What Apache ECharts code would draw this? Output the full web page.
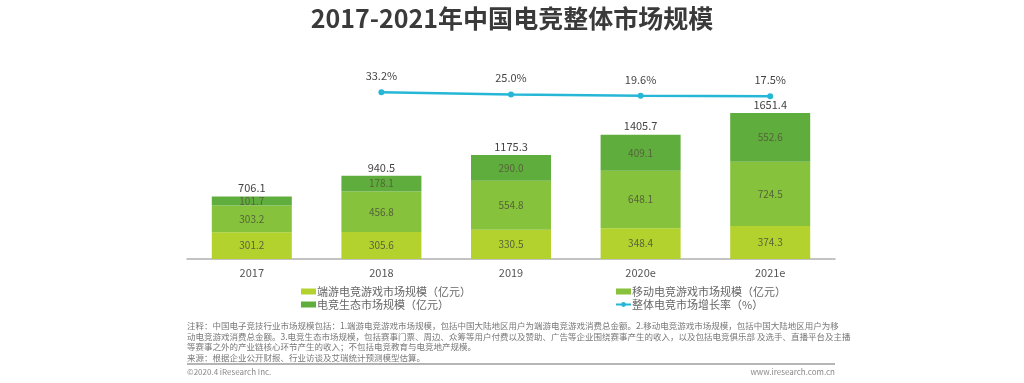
<!DOCTYPE html>
<html>
<head>
<meta charset="utf-8">
<script src="https://cdn.jsdelivr.net/npm/echarts@6/dist/echarts.min.js"></script>
<style>
html,body{margin:0;padding:0;background:#fff;}
#chart{width:1024px;height:383px;}
</style>
</head>
<body>
<div id="chart"></div>
<script>
const categories = ['2017', '2018', '2019', '2020e', '2021e'];
const pcGame = [301.2, 305.6, 330.5, 348.4, 374.3];
const mobileGame = [303.2, 456.8, 554.8, 648.1, 724.5];
const ecosystem = [101.7, 178.1, 290.0, 409.1, 552.6];
const totals = [706.1, 940.5, 1175.3, 1405.7, 1651.4];
const growth = [null, 33.2, 25.0, 19.6, 17.5];

const names = ['端游电竞游戏市场规模（亿元）', '移动电竞游戏市场规模（亿元）', '电竞生态市场规模（亿元）', '整体电竞市场增长率（%）'];
const colors = ['#b3d22d', '#86c23b', '#5fad3c', '#27b7d6'];
const FONT = '"Noto Sans CJK SC", "Noto Sans", sans-serif';

const footnote = [
  '注释：中国电子竞技行业市场规模包括：1.端游电竞游戏市场规模，包括中国大陆地区用户为端游电竞游戏消费总金额。2.移动电竞游戏市场规模，包括中国大陆地区用户为移',
  '动电竞游戏消费总金额。3.电竞生态市场规模，包括赛事门票、周边、众筹等用户付费以及赞助、广告等企业围绕赛事产生的收入，以及包括电竞俱乐部 及选手、直播平台及主播',
  '等赛事之外的产业链核心环节产生的收入；不包括电竞教育与电竞地产规模。',
  '来源：根据企业公开财报、行业访谈及艾瑞统计预测模型估算。'
].join('\n');

const chart = echarts.init(document.getElementById('chart'), null, {renderer: 'canvas'});
const segLabel = {
  show: true, position: 'inside', fontSize: 10, color: '#55633a', fontFamily: FONT,
  formatter: p => p.value.toFixed(1)
};
chart.setOption({
  animation: false,
  backgroundColor: '#fff',
  textStyle: {fontFamily: FONT},
  title: {
    text: '2017-2021年中国电竞整体市场规模',
    left: 'center', top: 1,
    textStyle: {fontSize: 25, fontWeight: 'bold', color: '#3a3a3a', fontFamily: FONT}
  },
  legend: [
    {
      orient: 'vertical', left: 296, top: 281, itemGap: 2, itemWidth: 15, itemHeight: 6,
      textStyle: {fontSize: 11, color: '#666', fontFamily: FONT, padding: [0, 0, 0, -4]},
      data: [{name: names[0], icon: 'rect'}, {name: names[2], icon: 'rect'}]
    },
    {
      orient: 'vertical', left: 610, top: 281, itemGap: 2, itemWidth: 15, itemHeight: 6,
      textStyle: {fontSize: 11, color: '#666', fontFamily: FONT, padding: [0, 0, 0, -4]},
      data: [{name: names[1], icon: 'rect'}, {name: names[3]}]
    }
  ],
  grid: {left: 187, right: 189, top: 60, bottom: 124},
  xAxis: {
    type: 'category', data: categories,
    axisLine: {lineStyle: {color: '#b0b0b0', width: 1.5}},
    axisTick: {show: false},
    axisLabel: {fontSize: 11, color: '#555', margin: 8, fontFamily: FONT}
  },
  yAxis: [
    {type: 'value', min: 0, max: 2250, show: false, splitLine: {show: false}},
    {type: 'value', min: -620, max: 160, show: false, splitLine: {show: false}}
  ],
  series: [
    {name: names[0], type: 'bar', stack: 'total', barWidth: 80, data: pcGame,
     itemStyle: {color: colors[0]}, label: segLabel},
    {name: names[1], type: 'bar', stack: 'total', barWidth: 80, data: mobileGame,
     itemStyle: {color: colors[1]}, label: segLabel},
    {name: names[2], type: 'bar', stack: 'total', barWidth: 80, data: ecosystem,
     itemStyle: {color: colors[2]}, label: segLabel},
    {name: 'total', type: 'bar', barWidth: 80, barGap: '-100%', data: totals,
     itemStyle: {color: 'rgba(0,0,0,0)'}, silent: true, z: 1,
     label: {show: true, position: 'top', distance: 3, fontSize: 11, color: '#444', fontFamily: FONT,
             formatter: p => p.value.toFixed(1)}},
    {name: names[3], type: 'line', yAxisIndex: 1, data: growth,
     itemStyle: {color: colors[3]}, lineStyle: {color: colors[3], width: 2.5},
     symbol: 'circle', symbolSize: 6, connectNulls: false,
     label: {show: true, position: 'top', distance: 8, fontSize: 11, color: '#444', fontFamily: FONT,
             formatter: p => p.value.toFixed(1) + '%'}}
  ],
  graphic: [
    {type: 'text', left: 187, top: 321,
     style: {text: footnote, fontSize: 8.5, lineHeight: 10.5, fill: '#777', fontFamily: FONT}},
    {type: 'line', shape: {x1: 187, y1: 364, x2: 835, y2: 364},
     style: {stroke: '#b5b5b5', lineWidth: 2}},
    {type: 'text', left: 187, top: 368,
     style: {text: '©2020.4 iResearch Inc.', fontSize: 8, fill: '#888', fontFamily: FONT}},
    {type: 'text', right: 189, top: 368,
     style: {text: 'www.iresearch.com.cn', fontSize: 8, fill: '#888', fontFamily: FONT}}
  ]
});
</script>
</body>
</html>
